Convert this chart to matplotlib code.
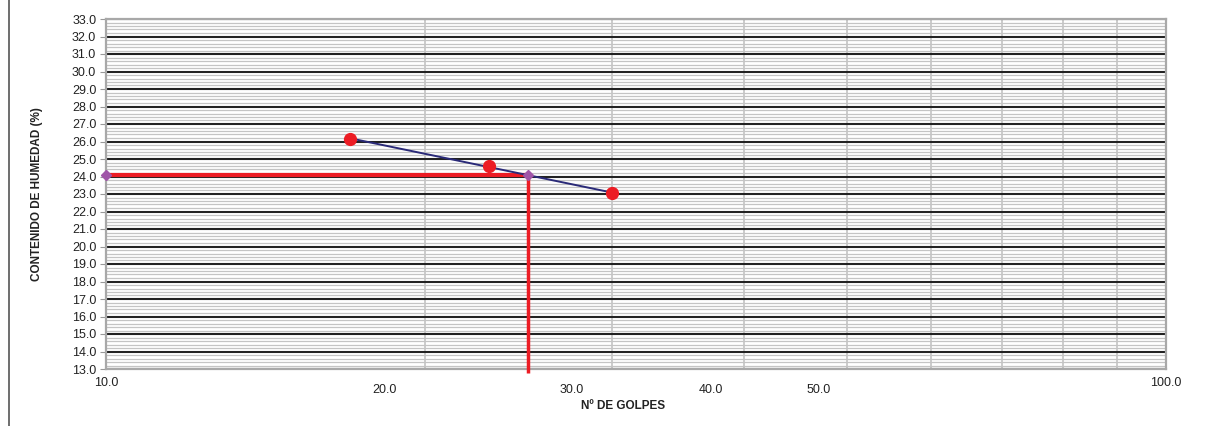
import matplotlib.pyplot as plt
import numpy as np
from matplotlib import rcParams
from matplotlib.ticker import MultipleLocator, FixedLocator, NullFormatter, FormatStrFormatter
from matplotlib.lines import Line2D

rcParams.update({"font.family": ["Liberation Sans", "DejaVu Sans"]})

# ensayo de limite liquido: golpes vs humedad
golpes = [17, 23, 30]
humedad = [26.15, 24.6, 23.05]

# limite liquido leido a 25 golpes
ll_golpes = 25
ll_humedad = 24.1

# rotulos del eje x (posicion en golpes, texto, desplazamiento vertical en px)
xlab_pos = [10, 18.3, 27.5, 37.2, 47, 100]
xlab_txt = ["10.0", "20.0", "30.0", "40.0", "50.0", "100.0"]
xlab_dy = [14, 21, 21, 21, 21, 14]

fig = plt.figure(figsize=(12.28, 4.26), dpi=100)
ax = fig.add_axes([106 / 1228, 1 - 369 / 426, 1060 / 1228, 350 / 426])

ax.set_xscale("log")
ax.set_xlim(10, 100)
ax.set_ylim(13, 33)

# rejilla horizontal: mayor cada 1.0, menor cada 0.2
ax.yaxis.set_major_locator(MultipleLocator(1.0))
ax.yaxis.set_minor_locator(MultipleLocator(0.2))
ax.yaxis.set_major_formatter(FormatStrFormatter("%.1f"))
ax.grid(which="minor", axis="y", color="#c4c4c4", lw=0.9)
ax.grid(which="major", axis="y", color="#222222", lw=1.5)
# rejilla vertical en 20, 30, ... 90
ax.xaxis.set_major_locator(FixedLocator([20, 30, 40, 50, 60, 70, 80, 90]))
ax.xaxis.set_minor_locator(FixedLocator([]))
ax.xaxis.set_major_formatter(NullFormatter())
ax.grid(which="major", axis="x", color="#c8c8c8", lw=1.3)
ax.set_axisbelow(True)
ax.tick_params(axis="x", length=0)
ax.tick_params(axis="y", which="major", length=4, color="#999999",
               labelsize=9, labelcolor="#222222", pad=3)
ax.tick_params(axis="y", which="minor", length=0)

for s in ax.spines.values():
    s.set_color("#a8a8a8")
    s.set_linewidth(1.6)

# rotulos del eje x desplazados como en la hoja de calculo
for xp, tx, dy in zip(xlab_pos, xlab_txt, xlab_dy):
    ax.annotate(tx, xy=(xp, 0), xycoords=("data", "axes fraction"),
                xytext=(0, -dy), textcoords="offset pixels",
                ha="center", va="center", fontsize=9, color="#222222")

fig.text(623 / 1228, 1 - 406 / 426, "Nº DE GOLPES", ha="center", va="center",
         fontsize=8.5, fontweight="bold", color="#222222")
fig.text(37 / 1228, 1 - 194 / 426, "CONTENIDO DE HUMEDAD (%)", ha="center",
         va="center", rotation=90, fontsize=8.5, fontweight="bold", color="#222222")

# linea de tendencia logaritmica
coef = np.polyfit(np.log10(golpes), humedad, 1)
tx = np.array([golpes[0], golpes[-1]])
ax.plot(tx, np.polyval(coef, np.log10(tx)), color="#2a2a78", lw=1.4, zorder=4)

# lineas rojas de lectura del limite liquido
ax.plot([10, ll_golpes], [ll_humedad, ll_humedad], color="#ec1c24", lw=3,
        zorder=3, solid_capstyle="butt")
ax.plot([ll_golpes, ll_golpes], [ll_humedad, 12.8], color="#ec1c24", lw=2.5,
        zorder=3, solid_capstyle="butt", clip_on=False)

ax.plot(golpes, humedad, "o", color="#ec1c24", ms=8.5, mec="#ec1c24", zorder=5)
ax.plot([10, ll_golpes], [ll_humedad, ll_humedad], "D", color="#a055a8",
        ms=5.5, zorder=6, clip_on=False)

# borde izquierdo del area del grafico
fig.add_artist(Line2D([9 / 1228, 9 / 1228], [0, 1], color="#555555", lw=1.2))

fig.savefig("out.png", dpi=100)
